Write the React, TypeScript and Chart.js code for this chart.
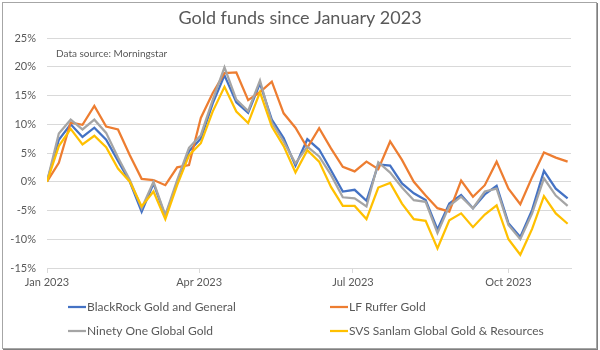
import React, { useEffect, useRef } from "react";
import { Chart, registerables } from "chart.js";

Chart.register(...registerables);

// ---- data ----
const weekDates = [
  "2023-01-01", "2023-01-08", "2023-01-15", "2023-01-22", "2023-01-29",
  "2023-02-05", "2023-02-12", "2023-02-19", "2023-02-26", "2023-03-05",
  "2023-03-12", "2023-03-19", "2023-03-26", "2023-04-02", "2023-04-09",
  "2023-04-16", "2023-04-23", "2023-04-30", "2023-05-07", "2023-05-14",
  "2023-05-21", "2023-05-28", "2023-06-04", "2023-06-11", "2023-06-18",
  "2023-06-25", "2023-07-02", "2023-07-09", "2023-07-16", "2023-07-23",
  "2023-07-30", "2023-08-06", "2023-08-13", "2023-08-20", "2023-08-27",
  "2023-09-03", "2023-09-10", "2023-09-17", "2023-09-24", "2023-10-01",
  "2023-10-08", "2023-10-15", "2023-10-22", "2023-10-29", "2023-11-05",
];

const blackRock = [
  0, 7.3, 10.0, 7.8, 9.4, 7.3, 3.6, 0, -5.2, -0.3,
  -6.0, -0.2, 5.3, 7.5, 13.6, 18.5, 13.8, 12.0, 17.1, 10.8,
  7.6, 2.8, 7.4, 5.6, 2.0, -1.7, -1.4, -3.3, 3.0, 2.8,
  -0.3, -2.0, -3.2, -8.3, -3.8, -2.3, -4.6, -2.2, -0.7, -7.2,
  -9.6, -4.9, 1.9, -1.2, -2.9,
];

const lfRuffer = [
  0, 3.3, 10.3, 9.9, 13.2, 9.6, 9.1, 4.6, 0.5, 0.3,
  -0.6, 2.5, 2.9, 11.1, 15.4, 18.9, 19.0, 14.2, 15.6, 17.4,
  11.9, 9.4, 5.9, 9.3, 5.8, 2.6, 1.8, 3.5, 2.2, 7.0,
  3.8, 0.0, -2.4, -4.6, -5.2, 0.2, -2.6, -0.6, 3.5, -1.2,
  -3.9, 0.8, 5.1, 4.2, 3.5,
];

const ninetyOne = [
  0, 8.4, 10.8, 9.1, 10.8, 8.5, 4.2, 0.3, -4.6, 0,
  -5.8, 0.3, 5.9, 8.1, 14.2, 19.9, 14.3, 12.3, 17.6, 10.3,
  7.0, 3.2, 6.1, 4.4, 1.2, -2.7, -2.9, -4.3, 3.4, 1.6,
  -1.0, -3.2, -3.5, -8.9, -4.2, -2.6, -4.6, -1.7, -1.2, -7.5,
  -10.0, -5.5, 0.6, -2.4, -4.2,
];

const svsSanlam = [
  0, 6.2, 9.2, 6.5, 8.0, 6.0, 2.3, 0, -4.3, -1.7,
  -6.5, -0.6, 4.6, 6.7, 12.2, 16.5, 12.2, 10.2, 15.6, 9.6,
  6.2, 1.6, 5.5, 3.5, -0.9, -4.2, -4.2, -6.5, -1.0, -0.2,
  -3.8, -6.5, -6.8, -11.6, -6.7, -5.5, -7.9, -5.7, -4.1, -10.0,
  -12.7, -8.2, -2.5, -5.5, -7.3,
];

const seriesNames = [
  "BlackRock Gold and General",
  "LF Ruffer Gold",
  "Ninety One Global Gold",
  "SVS Sanlam Global Gold & Resources",
];
const seriesValues = [blackRock, lfRuffer, ninetyOne, svsSanlam];
const seriesColors = ["#4472C4", "#ED7D31", "#A5A5A5", "#FFC000"];

const tickDates = ["2023-01-01", "2023-04-01", "2023-07-01", "2023-10-01"];
const tickLabels = ["Jan 2023", "Apr 2023", "Jul 2023", "Oct 2023"];
const axisStart = "2023-01-01";
const axisEnd = "2023-11-07";

const yMin = -15;
const yMax = 25;
const yStep = 5;

const titleText = "Gold funds since January 2023";
const sourceText = "Data source: Morningstar";

// ---- styling ----
const FONT = "Lato, 'Open Sans', 'Noto Sans', sans-serif";
const TEXT = "#595959";
const GRID = "#d9d9d9";

const dayOf = (s: string) => (Date.parse(s) - Date.parse(axisStart)) / 86400000;

const decorPlugin = {
  id: "decor",
  afterDraw(chart: any) {
    const ctx = chart.ctx;
    const area = chart.chartArea;
    ctx.save();
    ctx.fillStyle = TEXT;
    ctx.textBaseline = "middle";

    ctx.font = `18px ${FONT}`;
    ctx.textAlign = "center";
    ctx.fillText(titleText, chart.width / 2, 18);

    ctx.font = `10px ${FONT}`;
    ctx.textAlign = "left";
    ctx.fillText(sourceText, area.left + 9, area.top + 16);

    const cols = [68, 330];
    const rows = [307, 331];
    ctx.font = `12px ${FONT}`;
    chart.data.datasets.forEach((ds: any, i: number) => {
      const x = cols[i % 2];
      const y = rows[Math.floor(i / 2)];
      ctx.strokeStyle = ds.borderColor;
      ctx.lineWidth = 2.25;
      ctx.beginPath();
      ctx.moveTo(x, y);
      ctx.lineTo(x + 18, y);
      ctx.stroke();
      ctx.fillStyle = TEXT;
      ctx.fillText(ds.label, x + 19, y);
    });
    ctx.restore();
  },
};

export default function App() {
  const canvasRef = useRef<HTMLCanvasElement | null>(null);

  useEffect(() => {
    if (!canvasRef.current) return;
    const datasets = seriesNames.map((name, si) => ({
      label: name,
      data: weekDates.map((d, i) => ({ x: dayOf(d), y: seriesValues[si][i] })),
      borderColor: seriesColors[si],
      backgroundColor: seriesColors[si],
      borderWidth: 2.25,
      pointRadius: 0,
      tension: 0,
      fill: false,
      order: seriesNames.length - si,
    }));

    const chart = new Chart(canvasRef.current, {
      type: "line",
      data: { datasets },
      options: {
        animation: false,
        responsive: false,
        maintainAspectRatio: false,
        layout: { padding: { left: 0, right: 29, top: 38, bottom: 0 } },
        plugins: {
          legend: { display: false },
          title: { display: false },
          tooltip: { enabled: false },
        },
        scales: {
          x: {
            type: "linear",
            min: 0,
            max: dayOf(axisEnd),
            afterBuildTicks: (scale: any) => {
              scale.ticks = tickDates.map((d) => ({ value: dayOf(d) }));
            },
            afterFit: (scale: any) => {
              scale.height = 82;
            },
            ticks: {
              autoSkip: false,
              maxRotation: 0,
              padding: 3,
              color: TEXT,
              font: { family: FONT, size: 11 },
              callback: (v: any) => {
                const idx = tickDates.findIndex((d) => dayOf(d) === v);
                return idx >= 0 ? tickLabels[idx] : "";
              },
            },
            grid: {
              drawOnChartArea: false,
              drawTicks: true,
              tickLength: 5,
              color: GRID,
            },
            border: { display: true, color: GRID },
          },
          y: {
            min: yMin,
            max: yMax,
            afterFit: (scale: any) => {
              scale.width = 47;
            },
            ticks: {
              stepSize: yStep,
              padding: 11,
              color: TEXT,
              font: { family: FONT, size: 11 },
              callback: (v: any) => `${v}%`,
            },
            grid: { color: GRID, drawTicks: false },
            border: { display: false },
          },
        },
      },
      plugins: [decorPlugin],
    });
    return () => chart.destroy();
  }, []);

  return (
    <div style={{ position: "absolute", left: 0, top: 0, width: 600, height: 350, background: "#fff" }}>
      <canvas ref={canvasRef} width={600} height={350} style={{ display: "block" }} />
      <div
        style={{
          position: "absolute",
          left: 2,
          top: 2,
          width: 595,
          height: 347,
          boxSizing: "border-box",
          border: "1px solid #a6a6a6",
          boxShadow: "1px 1px 0 #7f7f7f",
          pointerEvents: "none",
        }}
      />
    </div>
  );
}
